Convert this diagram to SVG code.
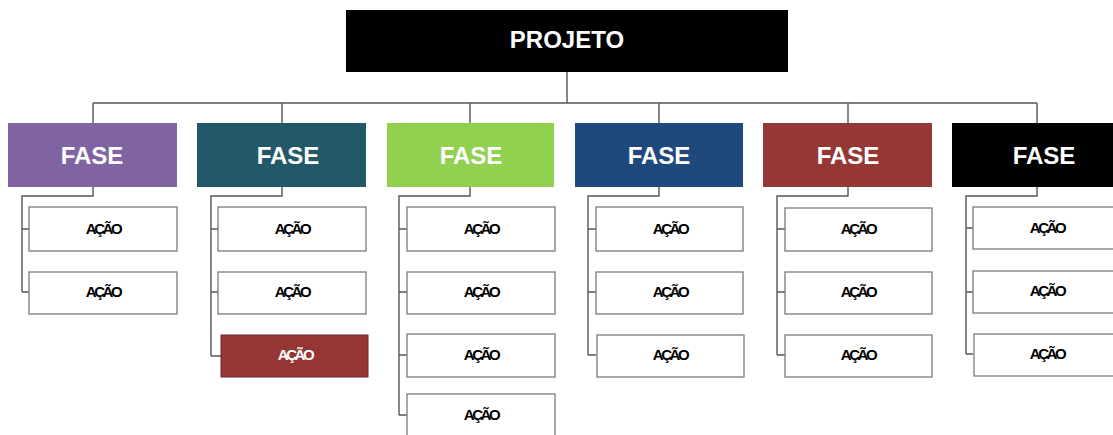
<svg xmlns="http://www.w3.org/2000/svg" width="1113" height="435" viewBox="0 0 1113 435">
<style>
.ln{fill:none;stroke:#555;stroke-width:1.4}
.act{fill:#fff;stroke:#7a7a7a;stroke-width:1.3}
.acr{fill:#943634;stroke:#6b2a28;stroke-width:1}
.at{font-family:"Liberation Sans",Arial,sans-serif;font-weight:bold;font-size:15px;letter-spacing:-2.4px;text-anchor:middle;fill:#000}
.atw{fill:#fff}
.ft{font-family:"Liberation Sans",Arial,sans-serif;font-weight:bold;font-size:24px;text-anchor:middle;fill:#fff}
</style>
<rect width="1113" height="435" fill="#fff"/>
<g id="connectors">
<path class="ln" d="M567 72V103M93 103H1037M93 103V123M282 103V123M470 103V123M659 103V123M848 103V123M1037 103V123"/>
<path class="ln" d="M93 187V196H22V292M22 229H29M22 292H29"/>
<path class="ln" d="M282 187V196H211V356M211 229H218M211 292H218M211 356H221"/>
<path class="ln" d="M470 187V196H399V415M399 229H407M399 292H407M399 355H407M399 415H407"/>
<path class="ln" d="M659 187V196H588V355M588 229H596M588 292H596M588 355H596"/>
<path class="ln" d="M848 187V196H777V355M777 229H785M777 292H785M777 355H785"/>
<path class="ln" d="M1037 187V196H966V354M966 228H973M966 292H973M966 354H973"/>
</g>
<g id="projeto"><rect x="346" y="10" width="442" height="62" fill="#000"/><text class="ft" x="567" y="48">PROJETO</text></g>
<g id="fase1"><rect x="8" y="123" width="169" height="64" fill="#8064a2"/><text class="ft" x="92" y="164">FASE</text></g>
<g id="fase2"><rect x="197" y="123" width="169" height="64" fill="#215968"/><text class="ft" x="288" y="164">FASE</text></g>
<g id="fase3"><rect x="387" y="123" width="167" height="64" fill="#92d050"/><text class="ft" x="471" y="164">FASE</text></g>
<g id="fase4"><rect x="575" y="123" width="168" height="64" fill="#1f497d"/><text class="ft" x="659" y="164">FASE</text></g>
<g id="fase5"><rect x="763" y="123" width="169" height="64" fill="#953735"/><text class="ft" x="848" y="164">FASE</text></g>
<g id="fase6"><rect x="952" y="123" width="170" height="64" fill="#000"/><text class="ft" x="1044" y="164">FASE</text></g>

<g id="a1-1"><rect class="act" x="29" y="207" width="148" height="44"/><text class="at" x="103" y="234">AÇÃO</text></g>
<g id="a1-2"><rect class="act" x="29" y="272" width="148" height="42"/><text class="at" x="103" y="297">AÇÃO</text></g>

<g id="a2-1"><rect class="act" x="218" y="207" width="148" height="44"/><text class="at" x="292" y="234">AÇÃO</text></g>
<g id="a2-2"><rect class="act" x="218" y="272" width="148" height="42"/><text class="at" x="292" y="297">AÇÃO</text></g>
<g id="a2-3"><rect class="acr" x="221" y="335" width="147" height="42"/><text class="at atw" x="295" y="360">AÇÃO</text></g>

<g id="a3-1"><rect class="act" x="407" y="207" width="148" height="44"/><text class="at" x="481" y="234">AÇÃO</text></g>
<g id="a3-2"><rect class="act" x="407" y="272" width="148" height="42"/><text class="at" x="481" y="297">AÇÃO</text></g>
<g id="a3-3"><rect class="act" x="407" y="334" width="148" height="43"/><text class="at" x="481" y="360">AÇÃO</text></g>
<g id="a3-4"><rect class="act" x="407" y="394" width="148" height="44"/><text class="at" x="481" y="420">AÇÃO</text></g>

<g id="a4-1"><rect class="act" x="596" y="207" width="147" height="44"/><text class="at" x="670" y="234">AÇÃO</text></g>
<g id="a4-2"><rect class="act" x="596" y="272" width="147" height="42"/><text class="at" x="670" y="297">AÇÃO</text></g>
<g id="a4-3"><rect class="act" x="597" y="335" width="147" height="42"/><text class="at" x="670" y="360">AÇÃO</text></g>

<g id="a5-1"><rect class="act" x="785" y="208" width="147" height="43"/><text class="at" x="858" y="234">AÇÃO</text></g>
<g id="a5-2"><rect class="act" x="785" y="272" width="147" height="42"/><text class="at" x="858" y="297">AÇÃO</text></g>
<g id="a5-3"><rect class="act" x="785" y="335" width="147" height="42"/><text class="at" x="858" y="360">AÇÃO</text></g>

<g id="a6-1"><rect class="act" x="973" y="207" width="150" height="42"/><text class="at" x="1047" y="233">AÇÃO</text></g>
<g id="a6-2"><rect class="act" x="973" y="271" width="150" height="42"/><text class="at" x="1047" y="296">AÇÃO</text></g>
<g id="a6-3"><rect class="act" x="974" y="334" width="150" height="42"/><text class="at" x="1047" y="359">AÇÃO</text></g>
</svg>
